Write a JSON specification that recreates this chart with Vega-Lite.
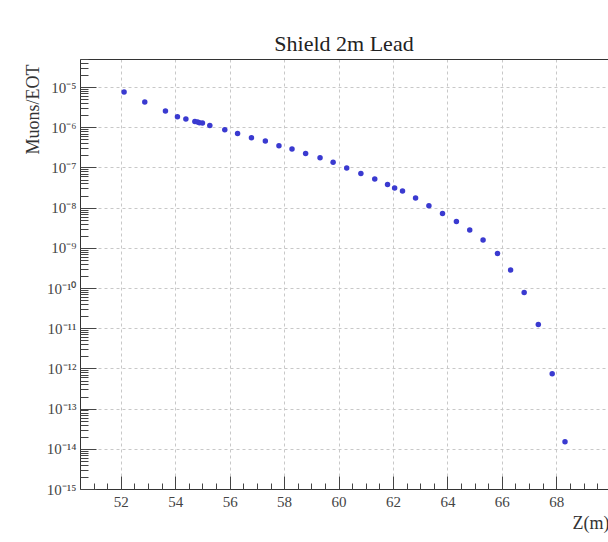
{
  "$schema": "https://vega.github.io/schema/vega-lite/v6.json",
  "width": 528,
  "height": 430,
  "autosize": {"type": "none"},
  "padding": {"left": 80, "top": 59, "right": 0, "bottom": 53},
  "background": "white",
  "config": {"view": {"stroke": null}, "font": "Liberation Serif"},
  "title": {"text": "Shield 2m Lead", "font": "Liberation Serif", "fontSize": 22, "fontWeight": "normal", "color": "#222", "anchor": "middle", "baseline": "alphabetic", "offset": 9, "dy": 23},
  "data": {"values": [
    {"z": 52.12, "v": 7.52e-6},
    {"z": 52.88, "v": 4.24e-6},
    {"z": 53.64, "v": 2.53e-6},
    {"z": 54.08, "v": 1.82e-6},
    {"z": 54.39, "v": 1.60e-6},
    {"z": 54.72, "v": 1.39e-6},
    {"z": 54.82, "v": 1.35e-6},
    {"z": 54.89, "v": 1.29e-6},
    {"z": 55.0, "v": 1.27e-6},
    {"z": 55.27, "v": 1.11e-6},
    {"z": 55.82, "v": 8.67e-7},
    {"z": 56.29, "v": 7.02e-7},
    {"z": 56.80, "v": 5.48e-7},
    {"z": 57.31, "v": 4.54e-7},
    {"z": 57.81, "v": 3.47e-7},
    {"z": 58.29, "v": 2.87e-7},
    {"z": 58.79, "v": 2.22e-7},
    {"z": 59.32, "v": 1.74e-7},
    {"z": 59.80, "v": 1.35e-7},
    {"z": 60.30, "v": 9.73e-8},
    {"z": 60.82, "v": 7.10e-8},
    {"z": 61.33, "v": 5.14e-8},
    {"z": 61.80, "v": 3.78e-8},
    {"z": 62.06, "v": 3.08e-8},
    {"z": 62.35, "v": 2.59e-8},
    {"z": 62.83, "v": 1.73e-8},
    {"z": 63.32, "v": 1.11e-8},
    {"z": 63.82, "v": 7.18e-9},
    {"z": 64.33, "v": 4.54e-9},
    {"z": 64.82, "v": 2.77e-9},
    {"z": 65.31, "v": 1.56e-9},
    {"z": 65.84, "v": 7.26e-10},
    {"z": 66.32, "v": 2.81e-10},
    {"z": 66.82, "v": 7.78e-11},
    {"z": 67.34, "v": 1.24e-11},
    {"z": 67.85, "v": 7.38e-13},
    {"z": 68.32, "v": 1.50e-14}
  ]},
  "layer": [
    {
      "mark": {"type": "point", "filled": true, "opacity": 1, "size": 30, "color": "#3a3ad0"},
      "encoding": {
        "x": {"field": "z", "type": "quantitative",
          "scale": {"domain": [50.5, 69.9], "zero": false, "nice": false},
          "axis": {"title": "Z(m)", "orient": "bottom", "values": [52, 54, 56, 58, 60, 62, 64, 66, 68],
            "grid": true, "gridDash": [3, 3], "gridColor": "#c8c8c8", "ticks": false,
            "domain": true, "domainColor": "#333", "labelFont": "Liberation Serif", "labelFontSize": 15,
            "labelColor": "#444", "labelPadding": 5, "labelFlush": false,
            "titleFont": "Liberation Serif", "titleFontSize": 18, "titleFontWeight": "normal", "titleColor": "#333",
            "titleAnchor": "end", "titleAlign": "right", "titleBaseline": "alphabetic", "titleX": 529, "titleY": 39}},
        "y": {"field": "v", "type": "quantitative",
          "scale": {"type": "log", "domain": [1e-15, 5e-5], "nice": false},
          "axis": {"title": "Muons/EOT", "orient": "left",
            "values": [1e-15, 1e-14, 1e-13, 1e-12, 1e-11, 1e-10, 1e-9, 1e-8, 1e-7, 1e-6, 1e-5],
            "grid": true, "gridDash": [3, 3], "gridColor": "#c8c8c8", "ticks": false,
            "domain": true, "domainColor": "#333",
            "labelExpr": "'10⁻' + (round(-log(datum.value)/LN10) >= 10 ? '¹' : '') + ['⁰','¹','²','³','⁴','⁵','⁶','⁷','⁸','⁹'][round(-log(datum.value)/LN10) % 10]",
            "labelFont": "Liberation Serif", "labelFontSize": 15, "labelColor": "#444", "labelPadding": 4, "labelFlush": false,
            "titleFont": "Liberation Serif", "titleFontSize": 18, "titleFontWeight": "normal", "titleColor": "#333",
            "titleAngle": -90, "titleAlign": "right", "titleBaseline": "alphabetic", "titleX": -42, "titleY": 5}}
      }
    },
    {
      "mark": {"type": "point", "opacity": 0},
      "encoding": {
        "x": {"field": "z", "type": "quantitative",
          "axis": {"orient": "bottom", "values": [52, 54, 56, 58, 60, 62, 64, 66, 68], "ticks": true, "tickSize": -13,
            "tickColor": "#444", "labels": false, "domain": false, "grid": false, "title": null}},
        "y": {"field": "v", "type": "quantitative",
          "axis": {"orient": "left", "values": [1e-15, 1e-14, 1e-13, 1e-12, 1e-11, 1e-10, 1e-9, 1e-8, 1e-7, 1e-6, 1e-5],
            "ticks": true, "tickSize": -16, "tickColor": "#444", "labels": false, "domain": false, "grid": false, "title": null}}
      }
    },
    {
      "mark": {"type": "point", "opacity": 0},
      "encoding": {
        "x": {"field": "z", "type": "quantitative",
          "axis": {"orient": "bottom",
            "values": [51, 51.5, 52.5, 53, 53.5, 54.5, 55, 55.5, 56.5, 57, 57.5, 58.5, 59, 59.5, 60.5, 61, 61.5, 62.5, 63, 63.5, 64.5, 65, 65.5, 66.5, 67, 67.5, 68.5, 69, 69.5],
            "ticks": true, "tickSize": -6, "tickColor": "#444", "labels": false, "domain": false, "grid": false, "title": null}},
        "y": {"field": "v", "type": "quantitative",
          "axis": {"orient": "left",
            "values": [2e-15, 3e-15, 4e-15, 5e-15, 6e-15, 7e-15, 8e-15, 9e-15,
                       2e-14, 3e-14, 4e-14, 5e-14, 6e-14, 7e-14, 8e-14, 9e-14,
                       2e-13, 3e-13, 4e-13, 5e-13, 6e-13, 7e-13, 8e-13, 9e-13,
                       2e-12, 3e-12, 4e-12, 5e-12, 6e-12, 7e-12, 8e-12, 9e-12,
                       2e-11, 3e-11, 4e-11, 5e-11, 6e-11, 7e-11, 8e-11, 9e-11,
                       2e-10, 3e-10, 4e-10, 5e-10, 6e-10, 7e-10, 8e-10, 9e-10,
                       2e-9, 3e-9, 4e-9, 5e-9, 6e-9, 7e-9, 8e-9, 9e-9,
                       2e-8, 3e-8, 4e-8, 5e-8, 6e-8, 7e-8, 8e-8, 9e-8,
                       2e-7, 3e-7, 4e-7, 5e-7, 6e-7, 7e-7, 8e-7, 9e-7,
                       2e-6, 3e-6, 4e-6, 5e-6, 6e-6, 7e-6, 8e-6, 9e-6,
                       2e-5, 3e-5, 4e-5, 5e-5],
            "ticks": true, "tickSize": -8, "tickColor": "#444", "labels": false, "domain": false, "grid": false, "title": null}}
      }
    },
    {
      "mark": {"type": "point", "opacity": 0},
      "encoding": {
        "x": {"field": "z", "type": "quantitative",
          "axis": {"orient": "top", "ticks": false, "labels": false, "domain": true, "domainColor": "#333", "grid": false, "title": null}},
        "y": {"field": "v", "type": "quantitative", "axis": null}
      }
    }
  ],
  "resolve": {"axis": {"x": "independent", "y": "independent"}}
}
